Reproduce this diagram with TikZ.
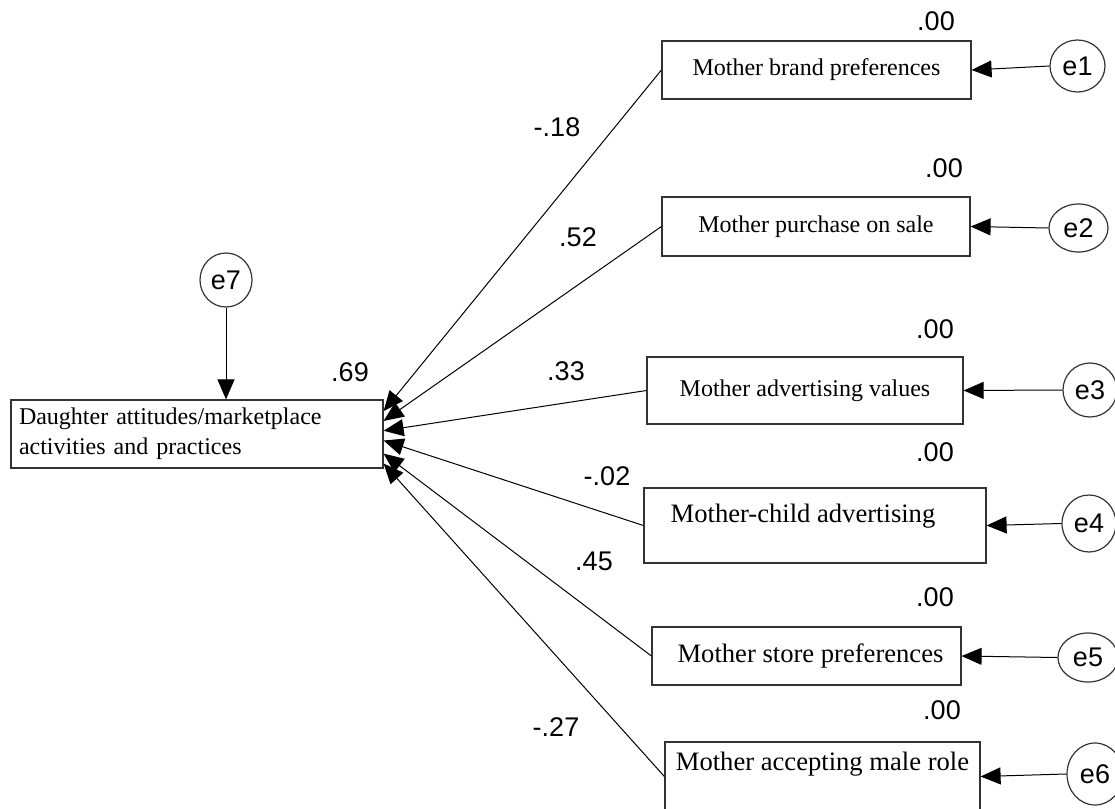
\documentclass[tikz,border=0pt]{standalone}
\usepackage{fontspec}
\setmainfont{Liberation Serif}
\newfontfamily\lsans{Liberation Sans}
\usetikzlibrary{arrows.meta,shapes.geometric}

\tikzset{
  obsbox/.style={draw=black!80, line width=0.6pt, rectangle, inner sep=2pt,
    font=\fontsize{12}{14.5}\selectfont, align=center},
  bigtext/.style={font=\fontsize{13.3}{16}\selectfont},
  errvar/.style={draw=black!80, line width=0.6pt, ellipse, inner sep=0pt,
    font=\lsans\fontsize{13.5}{15}\selectfont},
  coef/.style={font=\lsans\fontsize{13.5}{15}\selectfont, inner sep=0pt},
  regpath/.style={line width=0.5pt, -{Triangle[length=10pt,width=8.5pt]}}
}

\begin{document}
\begin{tikzpicture}[x=0.5pt, y=-0.5pt]

\useasboundingbox (0,0) rectangle (1115,809);

% dependent variable
\node (dau) [obsbox, minimum width=186pt, minimum height=34pt, text width=178pt,
  align=left, font=\fontsize{12}{15}\selectfont] at (197,434)
  {Daughter attitudes/marketplace\\activities and practices};
\node (e7) [errvar, minimum width=26pt, minimum height=27pt] at (226,280) {e7};
\node (r0) [coef] at (350,372) {.69};

% mother variables
\node (mbrand) [obsbox, minimum width=154.5pt, minimum height=29pt] at (816.5,70)
  {Mother brand preferences};
\node (msale) [obsbox, minimum width=154pt, minimum height=29.5pt] at (816,226.5)
  {Mother purchase on sale};
\node (madv) [obsbox, minimum width=158pt, minimum height=33.5pt] at (805,390.5)
  {Mother advertising values};
\node (mchild) [obsbox, bigtext, minimum width=171pt, minimum height=37.5pt] at (815,525.5)
  {\hspace*{-12pt}Mother-child advertising\\[-9pt] \strut};
\node (mstore) [obsbox, bigtext, minimum width=154.5pt, minimum height=29pt] at (806.5,656)
  {\hspace*{4pt}Mother store preferences};
\node (mmale) [obsbox, bigtext, minimum width=157.5pt, minimum height=34.5pt] at (822.5,776.5)
  {Mother accepting male role\\[-5.5pt] \strut};

% error terms
\node (e1) [errvar, minimum width=27.5pt, minimum height=26pt] at (1077.5,66) {e1};
\node (e2) [errvar, minimum width=29.5pt, minimum height=24pt] at (1078.5,228) {e2};
\node (e3) [errvar, minimum width=27pt, minimum height=27pt] at (1090,390) {e3};
\node (e4) [errvar, minimum width=27pt, minimum height=28.5pt] at (1089,523.5) {e4};
\node (e5) [errvar, minimum width=30pt, minimum height=24.5pt] at (1088,657.5) {e5};
\node (e6) [errvar, minimum width=28pt, minimum height=31pt] at (1095,774) {e6};

% squared multiple correlations
\node (r1) [coef] at (936,21) {.00};
\node (r2) [coef] at (944,168) {.00};
\node (r3) [coef] at (935,329) {.00};
\node (r4) [coef] at (935,452) {.00};
\node (r5) [coef] at (935,597) {.00};
\node (r6) [coef] at (942,710) {.00};

% path coefficients
\node (c1) [coef] at (557,127) {-.18};
\node (c2) [coef] at (578,237) {.52};
\node (c3) [coef] at (566,371) {.33};
\node (c4) [coef] at (607,476) {-.02};
\node (c5) [coef] at (594,561) {.45};
\node (c6) [coef] at (556,727) {-.27};

% regression paths
\draw[regpath] (mbrand.west) -- (dau.7.3);
\draw[regpath] (msale.west) -- (dau.4.6);
\draw[regpath] (madv.west) -- (dau.1.2);
\draw[regpath] (mchild.west) -- (dau.-2.8);
\draw[regpath] (mstore.west) -- (dau.-6.4);
\draw[regpath] (mmale.west) -- (dau.-9.8);

% error paths
\draw[regpath] (e1.west) -- (mbrand.east);
\draw[regpath] (e2.west) -- (msale.east);
\draw[regpath] (e3.west) -- (madv.east);
\draw[regpath] (e4.west) -- (mchild.east);
\draw[regpath] (e5.west) -- (mstore.east);
\draw[regpath] (e6.west) -- (mmale.east);
\draw[regpath] (e7.south) -- (e7.south |- dau.north);

\end{tikzpicture}
\end{document}
